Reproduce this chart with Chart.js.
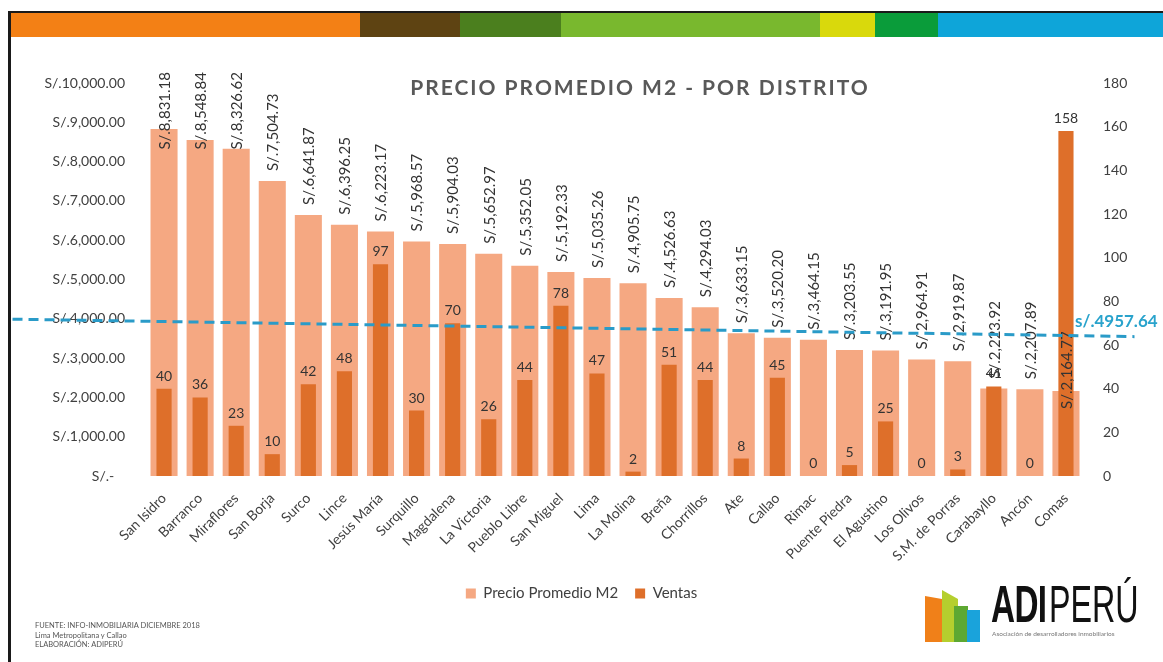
<!DOCTYPE html>
<html>
<head>
<meta charset="utf-8">
<script src="https://cdn.jsdelivr.net/npm/chart.js@4.4.1/dist/chart.umd.min.js"></script>
<style>
  body { margin: 0; background: #fff; font-family: Lato, "Open Sans", sans-serif; }
  #wrap { position: relative; width: 1163px; height: 662px; overflow: hidden; background: #fff; }
  #chart { position: absolute; left: 0; top: 0; }
  .frame { position: absolute; left: 8px; top: 11px; width: 1200px; height: 700px; border-left: 3px solid #1a1a1a; border-top: 2px solid #1a1a1a; }
  .stripe { position: absolute; left: 11px; top: 13px; height: 24px; width: 1152px; display: flex; }
  .stripe div { height: 100%; }
  .title { position: absolute; left: 0; width: 1280px; top: 74px; text-align: center; font: bold 21px Lato, sans-serif; letter-spacing: 2px; color: #595959; }
  .avg { position: absolute; left: 1075px; top: 310px; font: bold 17px Lato, sans-serif; color: #29a3cc; }
  .footer { position: absolute; left: 35px; top: 621px; font: 7.5px Lato, sans-serif; color: #555; line-height: 9.5px; }
  .logo-mark { position: absolute; left: 920px; top: 586px; }
  .adi { position: absolute; left: 991px; top: 578px; font: bold 52px "Liberation Sans", Arial, sans-serif; line-height: 52px; color: #111; transform: scaleX(0.64); transform-origin: left top; letter-spacing: -1px; }
  .peru { position: absolute; left: 1049px; top: 578px; font: 52px "Liberation Sans", Arial, sans-serif; line-height: 52px; color: #111; transform: scaleX(0.62); transform-origin: left top; }
  .asoc { position: absolute; left: 992px; top: 630px; font: 6.5px Lato, sans-serif; color: #777; }
</style>
</head>
<body>
<div id="wrap">
  <div class="frame"></div>
  <div class="stripe">
    <div style="width:349px;background:#f38015"></div>
    <div style="width:100px;background:#5e4312"></div>
    <div style="width:101px;background:#4b7f1e"></div>
    <div style="width:259px;background:#79b82e"></div>
    <div style="width:55px;background:#d9d90c"></div>
    <div style="width:63px;background:#0a9c3a"></div>
    <div style="width:225px;background:#0ea5d9"></div>
  </div>
  <canvas id="chart" width="1163" height="662"></canvas>
  <div class="title">PRECIO PROMEDIO M2 - POR DISTRITO</div>
  <div class="avg" id="avgLabel"></div>
  <div class="footer">FUENTE: INFO-INMOBILIARIA DICIEMBRE 2018<br>Lima Metropolitana y Callao<br>ELABORACIÓN: ADIPERÚ</div>
  <svg class="logo-mark" width="70" height="60">
    <polygon points="5,10 22,13 22,56 5,56" fill="#f08019"/>
    <polygon points="22,4 38,13 38,56 22,56" fill="#b5cf2e"/>
    <polygon points="34,20 48,20 48,56 34,56" fill="#5da832"/>
    <polygon points="47,24 60,24 60,56 47,56" fill="#1aa3db"/>
  </svg>
  <div class="adi">ADI</div>
  <div class="peru">PERÚ</div>
  <div class="asoc">Asociación de desarrolladores inmobiliarios</div>
</div>
<script>
// datos
const distritos = [
  "San Isidro", "Barranco", "Miraflores", "San Borja", "Surco", "Lince",
  "Jesús María", "Surquillo", "Magdalena", "La Victoria", "Pueblo Libre", "San Miguel",
  "Lima", "La Molina", "Breña", "Chorrillos", "Ate", "Callao", "Rimac",
  "Puente Piedra", "El Agustino", "Los Olivos", "S.M. de Porras", "Carabayllo", "Ancón", "Comas"
];

const precioM2 = [
  8831.18, 8548.84, 8326.62, 7504.73, 6641.87, 6396.25,
  6223.17, 5968.57, 5904.03, 5652.97, 5352.05, 5192.33,
  5035.26, 4905.75, 4526.63, 4294.03, 3633.15, 3520.20, 3464.15,
  3203.55, 3191.95, 2964.91, 2919.87, 2223.92, 2207.89, 2164.77
];

const ventas = [
  40, 36, 23, 10, 42, 48,
  97, 30, 70, 26, 44, 78,
  47, 2, 51, 44, 8, 45, 0,
  5, 25, 0, 3, 41, 0, 158
];

// linea de promedio (dibujada inclinada en el original)
const promedioTexto = "s/.4957.64";
const lineaPromedio = [{ x: -4.2, y: 3990 }, { x: 26.9, y: 3546 }];

const ticksPrecio = [
  "S/.-   ", "S/.1,000.00", "S/.2,000.00", "S/.3,000.00", "S/.4,000.00", "S/.5,000.00",
  "S/.6,000.00", "S/.7,000.00", "S/.8,000.00", "S/.9,000.00", "S/.10,000.00"
];

document.getElementById("avgLabel").textContent = promedioTexto;

function formatSoles(v) {
  return "S/." + v.toLocaleString("en-US", { minimumFractionDigits: 2, maximumFractionDigits: 2 });
}

const labelPlugin = {
  id: "valueLabels",
  beforeDatasetDraw(chart, args) {
    if (args.index !== 2) return;
    const ctx = chart.ctx;
    const precioMeta = chart.getDatasetMeta(0);
    const ventasMeta = chart.getDatasetMeta(1);
    ctx.save();
    ctx.fillStyle = "#333";
    ctx.font = "14px Lato";
    ctx.textAlign = "center";
    ctx.textBaseline = "alphabetic";
    ventasMeta.data.forEach((bar, i) => {
      ctx.fillText(String(ventas[i]), bar.x, bar.y - 8);
    });

    ctx.font = "15px Lato";
    ctx.textAlign = "left";
    ctx.textBaseline = "middle";
    precioMeta.data.forEach((bar, i) => {
      const txt = formatSoles(precioM2[i]);
      const w = ctx.measureText(txt).width;
      let bottom = bar.y - 10;
      if (bottom - w < 72) bottom = 72 + w;
      if (i === precioM2.length - 1) bottom = bar.y + 18; // Comas queda dentro de la barra
      ctx.save();
      ctx.translate(bar.x + 1, bottom);
      ctx.rotate(-Math.PI / 2);
      ctx.fillText(txt, 0, 0);
      ctx.restore();
    });
    ctx.restore();
  }
};

new Chart(document.getElementById("chart"), {
  data: {
    labels: distritos,
    datasets: [
      {
        type: "bar",
        label: "Precio Promedio M2",
        data: precioM2,
        backgroundColor: "#f5a882",
        yAxisID: "y",
        xAxisID: "x",
        grouped: false,
        barPercentage: 0.75,
        categoryPercentage: 1,
        order: 2
      },
      {
        type: "bar",
        label: "Ventas",
        data: ventas,
        backgroundColor: "#de6f2a",
        yAxisID: "y1",
        xAxisID: "x",
        grouped: false,
        barPercentage: 0.42,
        categoryPercentage: 1,
        order: 1
      },
      {
        type: "line",
        label: "Promedio",
        data: lineaPromedio,
        xAxisID: "xl",
        yAxisID: "y",
        borderColor: "#2a9bc8",
        borderWidth: 3,
        borderDash: [10, 6],
        pointRadius: 0,
        fill: false,
        clip: false,
        order: 0
      }
    ]
  },
  options: {
    responsive: false,
    animation: false,
    devicePixelRatio: 1,
    events: [],
    layout: { padding: { top: 83, left: 0, right: 0, bottom: 51 } },
    plugins: {
      title: { display: false },
      tooltip: { enabled: false },
      legend: {
        position: "bottom",
        labels: {
          font: { family: "Lato", size: 15 },
          color: "#404040",
          boxWidth: 10,
          boxHeight: 10,
          padding: 17,
          filter: item => item.datasetIndex !== 2,
          sort: (a, b) => a.datasetIndex - b.datasetIndex
        }
      }
    },
    scales: {
      x: {
        type: "category",
        offset: true,
        grid: { display: false, drawTicks: false },
        border: { display: false },
        ticks: {
          autoSkip: false,
          minRotation: 45,
          maxRotation: 45,
          padding: 14,
          font: { family: "Lato", size: 14 },
          color: "#404040"
        },
        afterFit: scale => { scale.height = 93; }
      },
      xl: {
        type: "linear",
        display: false,
        min: -0.5,
        max: 25.5
      },
      y: {
        position: "left",
        min: 0,
        max: 10000,
        grid: { display: false, drawTicks: false },
        border: { display: false },
        ticks: {
          stepSize: 1000,
          padding: 21,
          font: { family: "Lato", size: 14 },
          color: "#404040",
          callback: (v, i) => ticksPrecio[i]
        },
        afterFit: scale => { scale.width = 146; }
      },
      y1: {
        position: "right",
        min: 0,
        max: 180,
        grid: { display: false, drawTicks: false },
        border: { display: false },
        ticks: {
          stepSize: 20,
          padding: 19,
          font: { family: "Lato", size: 14 },
          color: "#404040"
        },
        afterFit: scale => { scale.width = 79; }
      }
    }
  },
  plugins: [labelPlugin]
});
</script>
</body>
</html>
